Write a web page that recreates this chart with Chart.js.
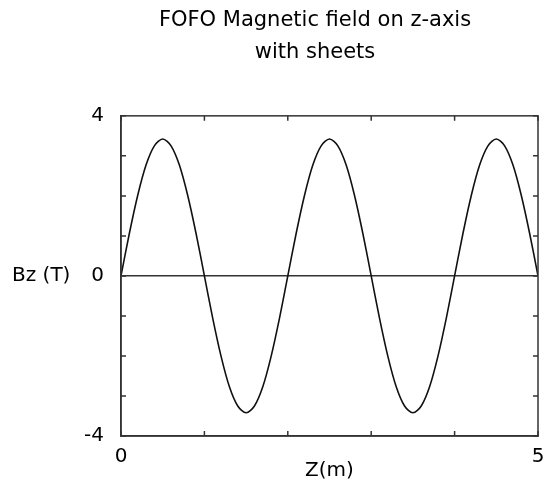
<!DOCTYPE html>
<html><head><meta charset="utf-8">
<script src="https://cdn.jsdelivr.net/npm/chart.js@4.4.1/dist/chart.umd.min.js"></script>
<style>html,body{margin:0;padding:0;background:#fff}</style>
</head><body>
<canvas id="c" width="547" height="484"></canvas>
<script>
const titleLines = ['FOFO Magnetic field on z-axis', 'with sheets'];
const xAxisTitle = 'Z(m)';
const yAxisTitle = 'Bz (T)';
const yTickLabels = [-4, 0, 4];
const xTickLabels = [0, 5];
const zValues = [0.0,0.1,0.2,0.3,0.4,0.5,0.6,0.7,0.8,0.9,
                 1.0,1.1,1.2,1.3,1.4,1.5,1.6,1.7,1.8,1.9,
                 2.0,2.1,2.2,2.3,2.4,2.5,2.6,2.7,2.8,2.9,
                 3.0,3.1,3.2,3.3,3.4,3.5,3.6,3.7,3.8,3.9,
                 4.0,4.1,4.2,4.3,4.4,4.5,4.6,4.7,4.8,4.9,5.0];
const bzValues = [0, 1.06, 2.01, 2.77, 3.25, 3.42, 3.25, 2.77, 2.01, 1.06,
                  0, -1.06, -2.01, -2.77, -3.25, -3.42, -3.25, -2.77, -2.01, -1.06,
                  0, 1.06, 2.01, 2.77, 3.25, 3.42, 3.25, 2.77, 2.01, 1.06,
                  0, -1.06, -2.01, -2.77, -3.25, -3.42, -3.25, -2.77, -2.01, -1.06,
                  0, 1.06, 2.01, 2.77, 3.25, 3.42, 3.25, 2.77, 2.01, 1.06, 0];

const FONT = '"DejaVu Sans", sans-serif';
const INK = '#000';
const AXIS = '#333';

const framePlugin = {
  id: 'frame',
  afterLayout(chart) {
    // let the y tick labels extend left of the padded area without being clipped
    chart.scales.y.left = 0;
  },
  afterDraw(chart) {
    const {ctx, chartArea: a, scales: {x, y}} = chart;
    ctx.save();
    ctx.strokeStyle = AXIS;
    ctx.lineWidth = 1.5;
    ctx.strokeRect(a.left, a.top, a.right - a.left, a.bottom - a.top);
    const L = 5;
    ctx.beginPath();
    y.ticks.forEach(t => {
      const py = y.getPixelForValue(t.value);
      ctx.moveTo(a.left, py); ctx.lineTo(a.left + L, py);
      ctx.moveTo(a.right, py); ctx.lineTo(a.right - L, py);
    });
    x.ticks.forEach(t => {
      const px = x.getPixelForValue(t.value);
      ctx.moveTo(px, a.bottom); ctx.lineTo(px, a.bottom - L);
      ctx.moveTo(px, a.top); ctx.lineTo(px, a.top + L);
    });
    ctx.stroke();
    ctx.fillStyle = INK;
    ctx.font = '20px ' + FONT;
    ctx.textAlign = 'left';
    ctx.textBaseline = 'middle';
    ctx.fillText(yAxisTitle, 12, y.getPixelForValue(0));
    ctx.restore();
  }
};

new Chart(document.getElementById('c'), {
  type: 'line',
  data: {
    datasets: [{
      data: zValues.map((z, i) => ({x: z, y: bzValues[i]})),
      borderColor: '#111',
      borderWidth: 1.6,
      pointRadius: 0,
      fill: false,
      tension: 0.3
    }]
  },
  options: {
    responsive: false,
    animation: false,
    devicePixelRatio: 1,
    layout: {padding: {left: 92, right: 9, top: 0, bottom: 0}},
    plugins: {
      legend: {display: false},
      tooltip: {enabled: false},
      title: {
        display: true,
        text: titleLines,
        color: INK,
        font: {family: FONT, size: 21, weight: 'normal', lineHeight: 1.52},
        padding: {top: 5, bottom: 47}
      }
    },
    scales: {
      x: {
        type: 'linear',
        min: 0, max: 5,
        afterFit(s) { s.height = 48; s.paddingLeft = 0; s.paddingRight = 0; },
        ticks: {
          stepSize: 1,
          autoSkip: false,
          maxRotation: 0,
          padding: 9,
          color: INK,
          font: {family: FONT, size: 20},
          callback: v => xTickLabels.includes(v) ? String(v) : ''
        },
        grid: {display: false, drawTicks: false},
        border: {display: true, color: AXIS, width: 1.5},
        title: {
          display: true,
          text: xAxisTitle,
          color: INK,
          font: {family: FONT, size: 20},
          padding: {top: 0, bottom: 1}
        }
      },
      y: {
        min: -4, max: 4,
        afterFit(s) { s.width = 29; s.paddingTop = 0; s.paddingBottom = 0; },
        ticks: {
          stepSize: 1,
          autoSkip: false,
          padding: 17,
          color: INK,
          font: {family: FONT, size: 20},
          callback: v => yTickLabels.includes(v) ? String(v) : ''
        },
        grid: {
          drawTicks: false,
          drawOnChartArea: true,
          lineWidth: 1.5,
          color: c => (c.tick && c.tick.value === 0) ? AXIS : 'rgba(0,0,0,0)'
        },
        border: {display: true, color: AXIS, width: 1.5}
      }
    }
  },
  plugins: [framePlugin]
});
</script>
</body></html>
